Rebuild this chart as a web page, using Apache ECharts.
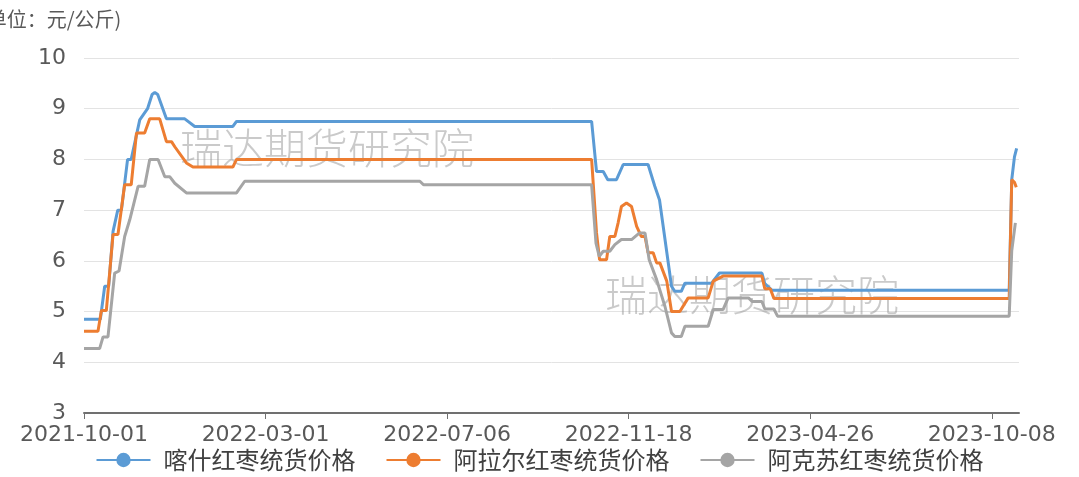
<!DOCTYPE html>
<html>
<head>
<meta charset="utf-8">
<script src="https://cdn.jsdelivr.net/npm/echarts@6/dist/echarts.min.js"></script>
<style>
html,body{margin:0;padding:0;background:#fff;}
#chart{width:1079px;height:477px;}
</style>
</head>
<body>
<div id="chart"></div>
<script>
// x = trading-day index (100 per labelled interval), y = price (元/公斤)
var tickPositions = [0, 100, 200, 300, 400, 500];
var tickLabels = ['2021-10-01', '2022-03-01', '2022-07-06', '2022-11-18', '2023-04-26', '2023-10-08'];
var seriesNames = ['喀什红枣统货价格', '阿拉尔红枣统货价格', '阿克苏红枣统货价格'];

var kashi = [[0,4.85],[9,4.85],[11.4,5.5],[13.6,5.5],[16,6.58],[18.6,7.0],[20.6,7.0],[24,8.0],[26,8.0],
  [30.7,8.78],[35,9.0],[37.5,9.28],[39,9.32],[40.6,9.28],[45.4,8.8],[55.5,8.8],[61,8.65],[82,8.65],[84,8.75],
  [279.6,8.75],[282.3,7.76],[286,7.76],[288.5,7.6],[293.3,7.6],[297,7.9],[310.7,7.9],[314.4,7.47],
  [317,7.2],[323.6,5.5],[325.4,5.4],[329,5.4],[331,5.56],[345.7,5.56],[350,5.76],[373.4,5.76],
  [375,5.55],[379,5.42],[509.6,5.42],[511,7.6],[512.5,8.05],[513.7,8.22]];

var alaer = [[0,4.61],[7.7,4.61],[9.6,5.02],[12.3,5.02],[16,6.52],[18.7,6.52],[22.4,7.5],[26,7.5],
  [28.9,8.52],[33.4,8.52],[36.2,8.8],[41.7,8.8],[45.4,8.35],[48.2,8.35],[50,8.25],[56.4,7.93],[60,7.85],
  [82,7.85],[84,8.0],[279.6,8.0],[282.3,6.55],[284,6.02],[287.8,6.02],[289.6,6.48],[292.4,6.48],
  [294.2,6.75],[296,7.07],[298.8,7.14],[301.6,7.07],[304.4,6.68],[307,6.48],[309,6.48],[310.7,6.16],
  [313.5,6.16],[315.4,5.96],[317.2,5.96],[321,5.6],[323.6,5.0],[328.2,5.0],[332.8,5.27],[343.8,5.27],
  [346.6,5.6],[352,5.7],[373.4,5.7],[375,5.45],[378,5.45],[380,5.26],[509.6,5.26],[511,7.6],
  [512.5,7.55],[513.5,7.45]];

var akesu = [[0,4.27],[8.6,4.27],[10.5,4.5],[13.2,4.5],[16.9,5.76],[19.3,5.8],[22.4,6.48],[25.2,6.81],
  [29.8,7.47],[33.4,7.47],[36.2,8.0],[40.8,8.0],[44.5,7.66],[47.2,7.66],[50,7.53],[56.4,7.34],[84,7.34],
  [88.5,7.57],[185,7.57],[187,7.5],[279.6,7.5],[282,6.35],[283.8,6.09],[286,6.19],[289.6,6.19],
  [292.4,6.32],[296,6.42],[301.6,6.42],[306,6.55],[309,6.55],[311.3,6.02],[315.4,5.63],[320,5.1],
  [323.6,4.58],[325.4,4.51],[329,4.51],[331,4.71],[343.8,4.71],[346.6,5.04],[352,5.04],[354.8,5.27],
  [366,5.27],[368,5.2],[373.4,5.2],[375,5.05],[380,5.05],[382,4.91],[509.6,4.91],[511,6.2],[513,6.75]];

var colors = ['#5B9BD5', '#ED7D31', '#A5A5A5'];

var chart = echarts.init(document.getElementById('chart'), null, {renderer: 'canvas'});

function lineSeries(name, data, color) {
  return {
    name: name, type: 'line', data: data, showSymbol: false, symbol: 'circle', symbolSize: 16,
    lineStyle: {width: 3, color: color}, itemStyle: {color: color}, z: 3
  };
}

chart.setOption({
  animation: false,
  color: colors,
  grid: {left: 84, right: 60, top: 58, bottom: 64, containLabel: false},
  graphic: [
    {type: 'text', left: -20, top: 9, style: {text: '(单位：元/公斤)', fontSize: 20, fill: '#595959',
      fontFamily: 'Noto Sans CJK SC'}},
    {type: 'text', left: 180, top: 127, silent: true, z: 1, style: {text: '瑞达期货研究院', fontSize: 42,
      fill: 'rgba(150,150,150,0.5)', fontFamily: 'Noto Sans CJK SC', fontWeight: 300}},
    {type: 'text', left: 605, top: 274, silent: true, z: 1, style: {text: '瑞达期货研究院', fontSize: 42,
      fill: 'rgba(150,150,150,0.5)', fontFamily: 'Noto Sans CJK SC', fontWeight: 300}}
  ],
  legend: {
    data: seriesNames, left: 'center', bottom: 0, itemWidth: 54, itemHeight: 18, itemGap: 30,
    textStyle: {fontSize: 24, color: '#404040', fontFamily: 'Noto Sans CJK SC', padding: [0, 0, 0, 8]}
  },
  xAxis: {
    type: 'value', min: 0, max: 515,
    axisLine: {show: true, lineStyle: {color: '#707070', width: 2}},
    axisTick: {show: true, customValues: tickPositions, length: 6, lineStyle: {color: '#707070'}},
    axisLabel: {
      customValues: tickPositions, fontSize: 22, color: '#595959', margin: 11,
      fontFamily: 'DejaVu Sans',
      formatter: function (v) { var i = tickPositions.indexOf(Math.round(v)); return i >= 0 ? tickLabels[i] : ''; }
    },
    splitLine: {show: false}
  },
  yAxis: {
    type: 'value', min: 3, max: 10, interval: 1,
    axisLine: {show: false}, axisTick: {show: false},
    axisLabel: {fontSize: 22, color: '#595959', margin: 18, fontFamily: 'DejaVu Sans'},
    splitLine: {lineStyle: {color: '#e3e3e3', width: 1}}
  },
  series: [
    lineSeries(seriesNames[0], kashi, colors[0]),
    lineSeries(seriesNames[1], alaer, colors[1]),
    lineSeries(seriesNames[2], akesu, colors[2])
  ]
});
</script>
</body>
</html>
